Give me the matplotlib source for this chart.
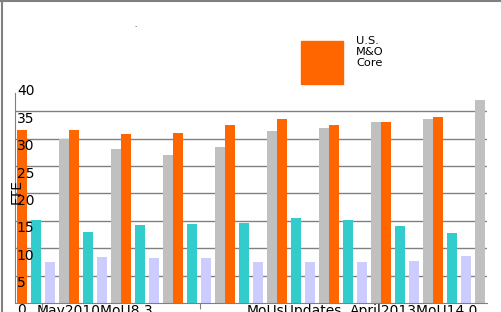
import numpy as np
import matplotlib
matplotlib.use('Agg')
import matplotlib.pyplot as plt
from matplotlib.lines import Line2D
from matplotlib.patches import Rectangle

# values (FTE)
orange = [31.6, 31.6, 30.8, 31.1, 32.5, 33.6, 32.5, 33.0, 33.9]
teal = [15.1, 13.0, 14.2, 14.4, 14.6, 15.6, 15.1, 14.0, 12.8]
lavender = [7.4, 8.4, 8.3, 8.3, 7.5, 7.5, 7.5, 7.7, 8.6]
gray = [30.0, 28.1, 27.0, 28.5, 31.4, 31.9, 33.0, 33.6, 37.0]
yticks = [0, 5, 10, 15, 20, 25, 30, 35, 40]
xlabels = ['May2010MoU8.3', 'MoUsUpdates', 'April2013MoU14.0']
legend_label = 'U.S.\nM&O\nCore'

W, H = 501, 312
def fx(px):
    return px / W
def fy(py):
    return 1 - py / H

fig = plt.figure(figsize=(W / 100, H / 100), dpi=100)
fig.patch.set_facecolor('white')

# axes box in pixels: x 15..487, y 84..303
ax = fig.add_axes([fx(15), fy(303), fx(487) - fx(15), fy(84) - fy(303)])
ax.set_facecolor('white')

n = len(orange)
x = np.arange(n)
bw = 10 / 52
ax.bar(x, orange, bw, align='edge', color='#FF6600', zorder=2)
ax.bar(x + 14.3 / 52, teal, bw, align='edge', color='#33CCCC', zorder=2)
ax.bar(x + 28.5 / 52, lavender, bw, align='edge', color='#CCCCFF', zorder=2)
ax.bar(x + 42 / 52, gray, bw, align='edge', color='#C0C0C0', zorder=2)

ax.set_xlim(-1.7 / 52, (487 - 16.7) / 52)
ax.set_ylim(0, 40)

for v in yticks[1:-1]:
    ax.axhline(v, color='#808080', lw=1, zorder=1)

for s in ['top', 'right']:
    ax.spines[s].set_visible(False)
ax.spines['left'].set_color('#808080')
ax.spines['bottom'].set_color('#808080')
ax.spines['left'].set_bounds(0, 38.4)

ax.set_yticks([])
ax.set_xticks([(42 - 16.7) / 52, (200 - 16.7) / 52])
ax.set_xticklabels([])
ax.tick_params(axis='x', length=4, color='#808080')

# y tick labels sit just inside the axis, below each gridline
for v in yticks:
    ax.text(0.004, v - 1.35, str(v), transform=ax.get_yaxis_transform(),
            ha='left', va='center', fontsize=10, color='black', zorder=5)

# category labels (cut by the bottom edge)
for lab, px in zip(xlabels, [37, 247, 350]):
    fig.text(fx(px), fy(303.5), lab, ha='left', va='top', fontsize=10, color='black')

fig.text(fx(17), fy(191), 'FTE', rotation=90, ha='center', va='center', fontsize=10, color='black')

# legend
fig.patches.append(Rectangle((fx(301), fy(84.3)), fx(342.7) - fx(301), fy(41) - fy(84.3),
                             transform=fig.transFigure, color='#FF6600'))
fig.text(fx(356), fy(36), legend_label, ha='left', va='top', fontsize=8.2,
         linespacing=1.15, color='black')

fig.text(fx(135), fy(28), '.', ha='center', va='bottom', fontsize=5, color='black')

# frame lines at top and left
fig.lines.append(Line2D([0, 1], [fy(1), fy(1)], transform=fig.transFigure, color='#808080', lw=1.5))
fig.lines.append(Line2D([fx(1.5), fx(1.5)], [0, 1], transform=fig.transFigure, color='#808080', lw=1.5))

fig.savefig('out.png', dpi=100)
